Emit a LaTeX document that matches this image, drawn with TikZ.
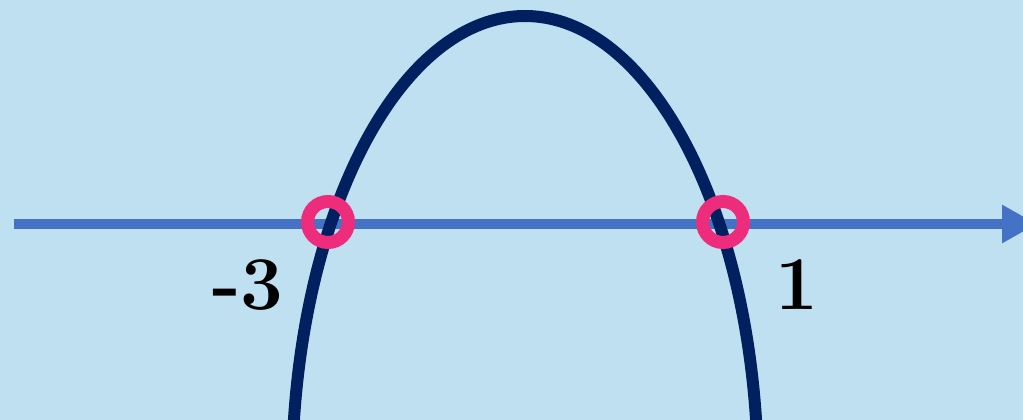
\documentclass[tikz,border=0pt]{standalone}
\usepackage{xcolor}
\definecolor{skyback}{RGB}{191,224,241}
\definecolor{axisblue}{RGB}{68,114,196}
\definecolor{navycurve}{RGB}{0,32,96}
\definecolor{rootpink}{RGB}{238,44,124}
\usepackage{tikz}
\usetikzlibrary{arrows.meta}

\begin{document}
\begin{tikzpicture}[x=1pt,y=-1pt,
axis/.style={-{Triangle[length=35pt,width=36pt]},line width=10pt,draw=axisblue},
curve/.style={line width=12pt,draw=navycurve},
root/.style={circle,draw=rootpink,line width=13pt,minimum size=41pt,inner sep=0pt},
rootlabel/.style={font=\fontsize{76}{76}\selectfont\bfseries,text=black,inner sep=0pt}]
\fill[skyback] (0,0) rectangle (1023,420);
\clip (0,0) rectangle (1023,420);
\coordinate (axisstart) at (14,224);
\coordinate (axisend) at (1037,224);
\draw[axis] (axisstart)--(axisend);
\draw[curve] (525,480) ellipse [x radius=233pt,y radius=464pt];
\node[root] (leftroot) at (328,222) {};
\node[root] (rightroot) at (723,222) {};
\node[rootlabel] (leftlabel) at (248,285) {-3};
\node[rootlabel] (rightlabel) at (797,285) {1};
\end{tikzpicture}
\end{document}
